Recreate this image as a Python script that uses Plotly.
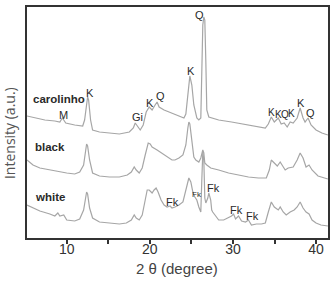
import plotly.graph_objects as go

# 2-theta positions and intensities (a.u., vertically offset)
carolinho_theta = [5.22,6.17,7.37,8.57,9.17,9.40,9.52,9.64,9.88,10.96,11.92,12.15,12.39,12.51,12.63,12.87,13.11,13.94,15.14,16.33,17.53,18.01,18.24,18.48,18.84,19.20,19.56,19.92,20.27,20.63,20.87,21.11,21.71,22.31,23.26,24.10,24.33,24.57,24.81,25.05,25.29,25.65,25.89,26.13,26.25,26.37,26.49,26.61,26.73,26.85,27.09,27.44,28.28,29.83,31.27,32.46,33.89,34.25,34.61,34.97,35.45,35.80,36.16,36.52,36.88,37.24,37.72,38.08,38.43,38.67,39.03,39.39,39.99,40.70,41.42]
carolinho_int = [122,120,118,117,116,119,120,118,115,113,112,118,138,141,138,118,108,106,105,104,106,110,115,112,108,113,126,131,128,133,136,131,128,126,123,120,124,143,162,153,133,120,118,120,178,213,221,218,178,128,121,120,118,116,114,112,110,114,121,116,120,114,115,111,116,115,120,130,120,116,120,113,108,105,103]

black_theta = [5.22,5.94,6.77,7.97,9.17,10.0,10.96,11.56,12.03,12.27,12.39,12.51,12.75,13.11,13.94,15.14,16.33,17.29,17.77,18.12,18.36,18.72,19.08,19.44,19.80,20.04,20.27,20.87,21.71,22.31,22.66,23.02,23.50,23.98,24.33,24.57,24.69,24.81,25.05,25.29,25.53,25.89,26.13,26.25,26.37,26.49,26.61,26.85,27.32,28.28,29.47,30.67,31.86,33.06,34.01,34.37,34.61,34.97,35.33,35.68,36.04,36.28,36.64,37.24,37.72,38.08,38.43,38.79,39.15,39.51,40.23,40.94,41.42]
black_int = [78,73,70,68,66,65,64,66,73,88,94,92,78,65,62,61,61,63,66,71,68,65,70,83,95,94,91,88,83,80,78,78,80,83,93,110,116,114,98,81,78,76,80,86,88,85,75,73,70,68,65,63,61,60,60,68,78,75,72,76,71,68,70,71,78,85,80,71,73,68,62,60,59]

white_theta = [5.22,5.94,6.77,7.97,8.57,8.93,9.17,9.64,10.0,10.96,11.56,12.03,12.27,12.39,12.51,12.75,13.11,13.94,15.14,16.33,17.17,17.77,18.12,18.36,18.72,19.08,19.44,19.68,19.92,20.27,20.51,20.75,20.99,21.35,21.71,22.07,22.43,22.66,23.02,23.50,23.98,24.33,24.57,24.69,24.93,25.17,25.41,25.65,25.89,26.13,26.25,26.37,26.49,26.61,26.73,26.97,27.09,27.32,27.44,27.56,27.92,28.28,28.88,29.47,29.83,30.07,30.31,30.67,31.03,31.51,31.86,32.22,32.82,33.42,33.89,34.25,34.61,34.97,35.45,35.68,36.04,36.40,36.88,37.36,37.72,38.08,38.43,38.79,39.15,39.51,39.99,40.58,41.42]
white_int = [33,30,27,24,22,25,22,23,18,17,19,28,43,46,44,30,20,16,15,14,15,18,23,20,18,23,38,48,48,45,48,50,46,38,33,31,32,30,31,33,36,48,58,60,56,46,41,38,31,26,58,86,78,40,35,40,45,38,28,26,22,18,18,20,22,24,19,22,17,16,18,13,14,14,15,26,36,31,28,31,26,23,26,28,31,36,30,26,24,18,15,13,12]

# sample names
sample_names = ["carolinho", "black", "white"]
sample_theta = [5.65, 5.94, 5.94]
sample_y = [139, 91, 41]

# phase labels
peak_labels = ["M","K","Gi","K","Q","K","Q","K","K","Q","K","K","Q","Fk","Fk","Fk","Fk","Fk"]
peak_theta = [9.64,12.85,18.48,20.04,21.23,24.93,26.01,34.61,35.45,36.28,37.0,38.2,39.27,22.78,25.65,27.68,30.43,32.34]
peak_y = [123,145,121,135,142,167,223,126,124,124,125,135,125,36,44,50,28,22]
peak_size = [11,11,11,11,11,11,11,10,10,10,10,11,11,11,8,11,11,11]

tick_vals = [10, 15, 20, 25, 30, 35, 40]
tick_text = ["10", "", "20", "", "30", "", "40"]

line_color = "#a6a6a6"
fig = go.Figure()
for th, it in [(carolinho_theta, carolinho_int), (black_theta, black_int), (white_theta, white_int)]:
    fig.add_trace(go.Scatter(x=th, y=it, mode="lines",
                             line=dict(color=line_color, width=1.2),
                             showlegend=False, hoverinfo="skip"))

annotations = []
for name, tx, ty in zip(sample_names, sample_theta, sample_y):
    annotations.append(dict(x=tx, y=ty, xref="x", yref="y", text="<b>%s</b>" % name,
                            showarrow=False, xanchor="left", yanchor="middle",
                            font=dict(family="Liberation Sans, Arial", size=11.5, color="#2a2a2a")))
for lab, tx, ty, sz in zip(peak_labels, peak_theta, peak_y, peak_size):
    annotations.append(dict(x=tx, y=ty, xref="x", yref="y", text=lab,
                            showarrow=False, xanchor="center", yanchor="middle",
                            font=dict(family="Liberation Sans, Arial", size=sz, color="#2a2a2a")))
annotations.append(dict(x=-0.056, y=0.455, xref="paper", yref="paper",
                        text="Intensity (a.u.)", textangle=-90, showarrow=False,
                        xanchor="center", yanchor="middle",
                        font=dict(family="Open Sans, Liberation Sans", size=14, color="#555555")))
annotations.append(dict(x=0.498, y=-0.13, xref="paper", yref="paper",
                        text="2 θ (degree)", showarrow=False,
                        xanchor="center", yanchor="middle",
                        font=dict(family="Liberation Sans, Arial", size=15, color="#444444")))

fig.update_layout(
    width=334, height=281,
    margin=dict(l=27, r=4, t=7, b=43),
    paper_bgcolor="white", plot_bgcolor="white",
    annotations=annotations,
    xaxis=dict(range=[5.22, 41.43], tickvals=tick_vals, ticktext=tick_text,
               ticks="outside", ticklen=4, tickwidth=1.5, tickcolor="#333",
               ticklabelstandoff=-7,
               showline=True, mirror=True, linecolor="#333", linewidth=2,
               showgrid=False, zeroline=False,
               tickfont=dict(family="Liberation Sans, Arial", size=14, color="#333")),
    yaxis=dict(range=[0, 231], showticklabels=False, ticks="",
               showline=True, mirror=True, linecolor="#333", linewidth=2,
               showgrid=False, zeroline=False),
)

fig.write_html("out.html")
